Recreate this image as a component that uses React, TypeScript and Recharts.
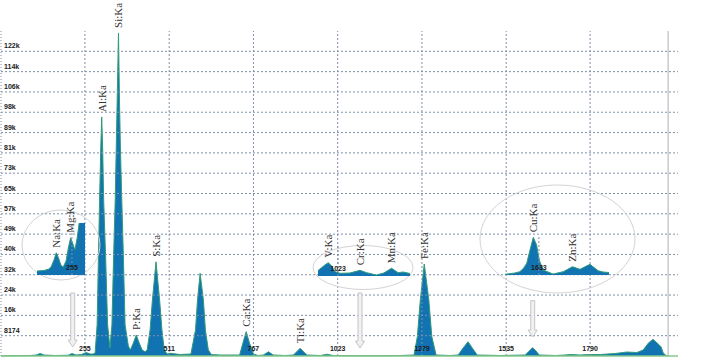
import React from "react";
import {
  ComposedChart,
  Area,
  Scatter,
  XAxis,
  YAxis,
  ReferenceLine,
} from "recharts";

// main spectrum, channel -> counts
const channels = [
  0, 28, 89, 107, 119, 131, 165, 204, 216, 228, 244, 259, 271, 280, 286,
  292, 296, 299.5, 303, 306, 309, 312, 318, 324, 331,
  337, 342, 347, 350, 353, 357, 360, 363, 367, 372, 377, 387, 393,
  402, 411, 420, 429, 438,
  444, 453, 460, 471, 482, 489, 496, 505, 514, 544, 577,
  591, 597, 605, 615, 621, 630, 639, 666, 696,
  725, 735, 745, 755, 767, 781, 797, 813, 827, 863,
  888, 898, 909, 920, 930, 970, 991, 1009, 1061, 1152, 1213,
  1255, 1265, 1274, 1286, 1300, 1309, 1322, 1365,
  1389, 1404, 1419, 1432, 1447, 1517,
  1593, 1605, 1615, 1626, 1635, 1684, 1714, 1730, 1760, 1790, 1821, 1866, 1902, 1932,
  1951, 1967, 1981, 1994, 2006, 2012, 2021, 2027,
];
const counts = [
  0, 120, 200, 400, 1000, 400, 200, 320, 1000, 400, 560, 1400, 800, 800, 1200,
  12500, 39400, 62800, 82900, 96200, 82900, 62800, 39400, 12500, 3200,
  12500, 39400, 62800, 82900, 103000, 130000, 103000, 82900, 62800, 39400, 12500, 4000, 2400,
  5200, 8450, 5200, 2400, 1700,
  2400, 10500, 22500, 37900, 22500, 10500, 2400, 800, 1100, 600, 800,
  10500, 22500, 33300, 22500, 10500, 2400, 600, 400, 400,
  400, 5200, 9800, 5200, 800, 200, 400, 1700, 400, 200,
  400, 1600, 3100, 1600, 400, 200, 700, 200, 100, 100, 200,
  400, 7800, 22500, 37000, 22500, 7800, 400, 200,
  400, 3200, 5750, 3200, 400, 200,
  400, 2000, 3350, 2000, 400, 200, 400, 600, 400, 600, 600, 1000, 1600, 1400,
  2400, 5200, 6700, 5200, 3600, 1200, 200, 0,
];

const xTicks = [255, 511, 767, 1023, 1279, 1535, 1790];
const yTicks = [
  8174, 16348, 24522, 32696, 40870, 49044, 57218, 65392, 73566, 81740, 89914,
  98088, 106262, 114436, 122610,
];
const yTickLabels = [
  "8174", "16k", "24k", "32k", "40k", "49k", "57k", "65k", "73k", "81k", "89k",
  "98k", "106k", "114k", "122k",
];

const peakNames = ["Al:Ka", "Si:Ka", "P:Ka", "S:Ka", "Ca:Ka", "Ti:Ka", "Fe:Ka"];
const peakChannels = [306, 357, 411, 471, 745, 909, 1286];
const peakCounts = [96200, 130000, 8450, 37900, 9800, 3100, 37000];

// zoomed insets
const lowChannels = [148, 169, 183, 191, 200, 207, 214, 221, 228, 237, 244, 251, 257, 264, 271, 277, 281, 295];
const lowCounts = [460, 520, 660, 920, 1730, 2570, 1960, 1150, 890, 1615, 3115, 4300, 3690, 2885, 4270, 5965, 7000, 9000];
const lowPeakNames = ["Na:Ka", "Mg:Ka"];
const lowPeakChannels = [207, 251];
const lowPeakCounts = [2570, 4300];

const midChannels = [962, 983, 993, 1001, 1014, 1029, 1059, 1090, 1110, 1140, 1162, 1186, 1206, 1221, 1242];
const midCounts = [550, 1100, 1330, 1100, 430, 270, 300, 570, 330, 100, 300, 770, 330, 400, 250];
const midPeakNames = ["V:Ka", "Cr:Ka", "Mn:Ka"];
const midPeakChannels = [993, 1090, 1186];
const midPeakCounts = [1330, 570, 770];

const highChannels = [1530, 1560, 1575, 1587, 1596, 1606, 1616, 1626, 1634, 1646, 1676, 1707, 1735, 1758, 1788, 1813, 1828, 1846];
const highCounts = [70, 200, 330, 700, 1170, 2500, 3770, 3000, 1500, 500, 100, 330, 830, 570, 1070, 430, 300, 250];
const highPeakNames = ["Cu:Ka", "Zn:Ka"];
const highPeakChannels = [1616, 1735];
const highPeakCounts = [3770, 830];

const FILL = "#1273b3";
const EDGE = "#2f9c78";
const GRID = "#7f8fa8";
const TICK_FONT = "'Liberation Sans', Arial, sans-serif";
const LABEL_FONT = "'Liberation Serif', 'Times New Roman', serif";

const zip = (xs: number[], ys: number[]) => xs.map((ch, i) => ({ ch, v: ys[i] }));
const peaks = (names: string[], xs: number[], ys: number[]) =>
  names.map((name, i) => ({ name, ch: xs[i], v: ys[i] }));

function XTick({ x, y, payload }: any) {
  return (
    <text x={x} y={y - 5.5} textAnchor="middle" fontFamily={TICK_FONT} fontSize={7} fontWeight="bold" fill="#1a1a1a">
      {payload.value}
    </text>
  );
}

function YTick({ x, y, payload }: any) {
  const label = yTickLabels[yTicks.indexOf(payload.value)];
  return (
    <text x={x + 3} y={y - 3} textAnchor="start" fontFamily={TICK_FONT} fontSize={7} fontWeight="bold" fill="#1a1a1a">
      {label}
    </text>
  );
}

function PeakText({ cx, cy, payload }: any) {
  const y = cy - 5;
  return (
    <text
      x={cx}
      y={y}
      dy="0.35em"
      transform={`rotate(-90 ${cx} ${y})`}
      textAnchor="start"
      fontFamily={LABEL_FONT}
      fontSize={11}
      fill="#333"
    >
      {payload.name}
    </text>
  );
}

function Inset({ data, labels, domain, yMax, tick, box, margin }: any) {
  const pos: React.CSSProperties = { position: "absolute", left: box[0], top: box[1] };
  return (
    <>
      <div style={pos}>
        <ComposedChart width={box[2]} height={box[3]} margin={margin}>
          <XAxis
            dataKey="ch"
            type="number"
            domain={domain}
            ticks={[tick]}
            height={1}
            tickSize={0}
            tickMargin={0}
            axisLine={false}
            tickLine={false}
            tick={<XTick />}
          />
          <YAxis type="number" domain={[0, yMax]} allowDataOverflow hide />
          <ReferenceLine x={tick} stroke={GRID} strokeDasharray="2 2" />
          <Area
            data={data}
            dataKey="v"
            type="linear"
            fill={FILL}
            fillOpacity={1}
            stroke={EDGE}
            strokeWidth={1}
            isAnimationActive={false}
          />
        </ComposedChart>
      </div>
      <div style={{ ...pos, pointerEvents: "none" }}>
        <ComposedChart width={box[2]} height={box[3]} margin={margin}>
          <XAxis dataKey="ch" type="number" domain={domain} height={1} tick={false} axisLine={false} tickLine={false} />
          <YAxis type="number" domain={[0, yMax]} hide />
          <Scatter data={labels} dataKey="v" shape={(p: any) => <PeakText {...p} />} isAnimationActive={false} />
        </ComposedChart>
      </div>
    </>
  );
}

function Arrow({ x, y0, y1 }: { x: number; y0: number; y1: number }) {
  const pts = [
    [x - 2, y0], [x + 2, y0], [x + 2, y1 - 7], [x + 4.5, y1 - 7],
    [x, y1], [x - 4.5, y1 - 7], [x - 2, y1 - 7],
  ].map((p) => p.join(",")).join(" ");
  return <polygon points={pts} fill="#f1f1f1" stroke="#c6c6c6" strokeWidth={1} />;
}

export default function App() {
  const spectrum = zip(channels, counts);
  const mainPeaks = peaks(peakNames, peakChannels, peakCounts);

  return (
    <div style={{ position: "absolute", left: 0, top: 0, width: 720, height: 358, background: "#fff" }}>
      <ComposedChart width={720} height={358} margin={{ top: 31, right: 42, bottom: 1, left: 0 }}>
        <XAxis
          dataKey="ch"
          type="number"
          domain={[0, 2057]}
          ticks={xTicks}
          interval={0}
          height={1}
          tickSize={0}
          tickMargin={0}
          tickLine={false}
          axisLine={{ stroke: "#86c98a", strokeWidth: 1.5 }}
          tick={<XTick />}
        />
        <YAxis
          type="number"
          domain={[0, 130784]}
          ticks={yTicks}
          interval={0}
          width={1}
          tickSize={0}
          tickMargin={0}
          tickLine={false}
          axisLine={{ stroke: GRID, strokeDasharray: "1 2" }}
          tick={<YTick />}
        />
        {yTicks.map((t) => (
          <ReferenceLine key={`h${t}`} y={t} stroke={GRID} strokeDasharray="2 2" />
        ))}
        {xTicks.map((t) => (
          <ReferenceLine key={`v${t}`} x={t} stroke={GRID} strokeDasharray="2 2" />
        ))}
        <ReferenceLine x={2027} stroke="#a9afb8" strokeWidth={1} />
        <Area
          data={spectrum}
          dataKey="v"
          type="linear"
          fill={FILL}
          fillOpacity={1}
          stroke={EDGE}
          strokeWidth={1}
          isAnimationActive={false}
        />
        <Scatter data={mainPeaks} dataKey="v" shape={(p: any) => <PeakText {...p} />} isAnimationActive={false} />
      </ComposedChart>

      <svg width={720} height={358} style={{ position: "absolute", left: 0, top: 0, pointerEvents: "none" }}>
        <ellipse cx={61} cy={245} rx={39} ry={35} fill="none" stroke="#d3d3d3" strokeWidth={1} />
        <ellipse cx={363} cy={267.5} rx={50} ry={22} fill="none" stroke="#d3d3d3" strokeWidth={1} />
        <ellipse cx={557.5} cy={239} rx={77.5} ry={54} fill="none" stroke="#d3d3d3" strokeWidth={1} />
        <Arrow x={72.7} y0={293} y1={347} />
        <Arrow x={360} y0={293} y1={348} />
        <Arrow x={532.7} y0={300.7} y1={337} />
      </svg>

      <Inset
        data={zip(lowChannels, lowCounts)}
        labels={peaks(lowPeakNames, lowPeakChannels, lowPeakCounts)}
        domain={[148, 295]}
        yMax={6000}
        tick={255}
        box={[20, 195, 85, 85]}
        margin={{ top: 28, left: 17, right: 20, bottom: 4 }}
      />
      <Inset
        data={zip(midChannels, midCounts)}
        labels={peaks(midPeakNames, midPeakChannels, midPeakCounts)}
        domain={[962, 1242]}
        yMax={3000}
        tick={1023}
        box={[300, 215, 130, 70]}
        margin={{ top: 31, left: 18, right: 20, bottom: 8 }}
      />
      <Inset
        data={zip(highChannels, highCounts)}
        labels={peaks(highPeakNames, highPeakChannels, highPeakCounts)}
        domain={[1530, 1846]}
        yMax={4000}
        tick={1633}
        box={[490, 190, 130, 95]}
        margin={{ top: 45, left: 15, right: 11, bottom: 9 }}
      />
    </div>
  );
}
